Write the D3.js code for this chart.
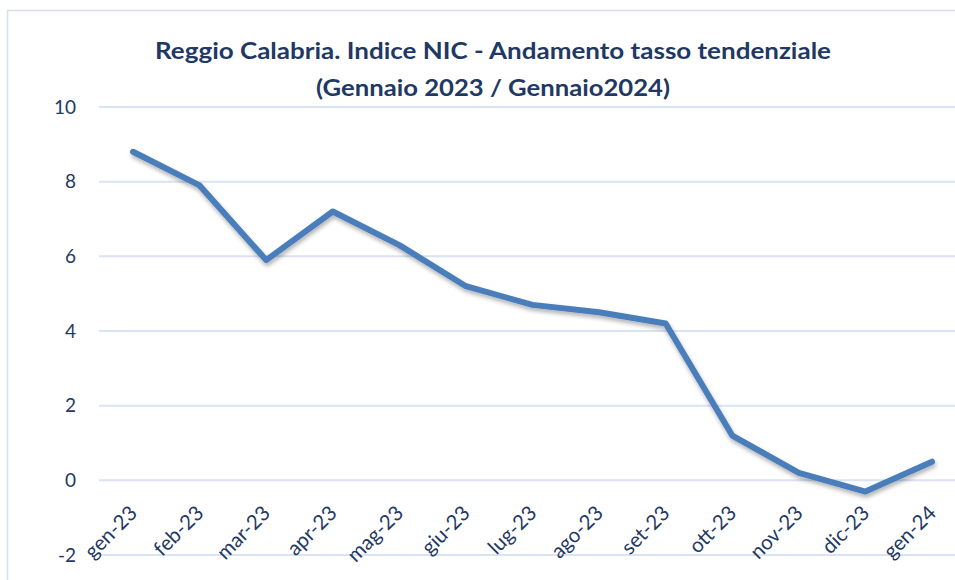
<!DOCTYPE html>
<html><head><meta charset="utf-8">
<script src="https://cdn.jsdelivr.net/npm/d3@7"></script>
<style>body{margin:0;background:#fff}svg{display:block;font-family:Lato,"Open Sans",sans-serif}</style>
</head><body><div id="chart"></div>
<script>
const categories = ["gen-23","feb-23","mar-23","apr-23","mag-23","giu-23","lug-23","ago-23","set-23","ott-23","nov-23","dic-23","gen-24"];
const values = [8.8,7.9,5.9,7.2,6.3,5.2,4.7,4.5,4.2,1.2,0.2,-0.3,0.5];
const yTicks = [-2,0,2,4,6,8,10];
const titleLines = ["Reggio Calabria. Indice NIC - Andamento tasso tendenziale","(Gennaio 2023 / Gennaio2024)"];

const W=955,H=580;
const svg=d3.select("#chart").append("svg").attr("width",W).attr("height",H);
const defs=svg.append("defs");
const f=defs.append("filter").attr("id","sh").attr("x","-10%").attr("y","-10%").attr("width","120%").attr("height","130%");
f.append("feDropShadow").attr("dx",1).attr("dy",3).attr("stdDeviation",2).attr("flood-color","#000").attr("flood-opacity",0.3);

svg.append("rect").attr("x",7.5).attr("y",10.5).attr("width",W).attr("height",H).attr("fill","none").attr("stroke","#D6DFEE").attr("stroke-width",1.5);

const x=d3.scalePoint().domain(categories).range([133,932]);
const y=d3.scaleLinear().domain([-2,10]).range([555,107]);
const gx0=99, gx1=W;

svg.append("g").selectAll("line").data(yTicks).join("line")
 .attr("x1",gx0).attr("x2",gx1).attr("y1",d=>y(d)).attr("y2",d=>y(d))
 .attr("stroke","#D9E3F3").attr("stroke-width",2);

svg.append("g").selectAll("text").data(yTicks).join("text")
 .attr("x",76).attr("y",d=>y(d)).attr("dy","0.35em").attr("text-anchor","end")
 .attr("fill","#1F3864").attr("font-size",19).text(d=>d);

svg.append("g").selectAll("text").data(categories).join("text")
 .attr("transform",d=>`translate(${x(d)+1},${510}) rotate(-45)`)
 .attr("text-anchor","end").attr("dy","0.3em")
 .attr("fill","#1F3864").attr("font-size",20.5).text(d=>d);

const line=d3.line().x((d,i)=>x(categories[i])).y(d=>y(d));
svg.append("path").datum(values).attr("d",line).attr("fill","none")
 .attr("stroke","#4A7EBB").attr("stroke-width",6).attr("stroke-linejoin","round").attr("stroke-linecap","round")
 .attr("filter","url(#sh)");

const tLen=[676,354];
svg.append("g").selectAll("text").data(titleLines).join("text")
 .attr("x",493).attr("y",(d,i)=>59+i*37).attr("text-anchor","middle")
 .attr("fill","#1F3864").attr("font-weight","bold").attr("font-size",23)
 .attr("textLength",(d,i)=>tLen[i]).attr("lengthAdjust","spacingAndGlyphs").text(d=>d);
</script></body></html>
